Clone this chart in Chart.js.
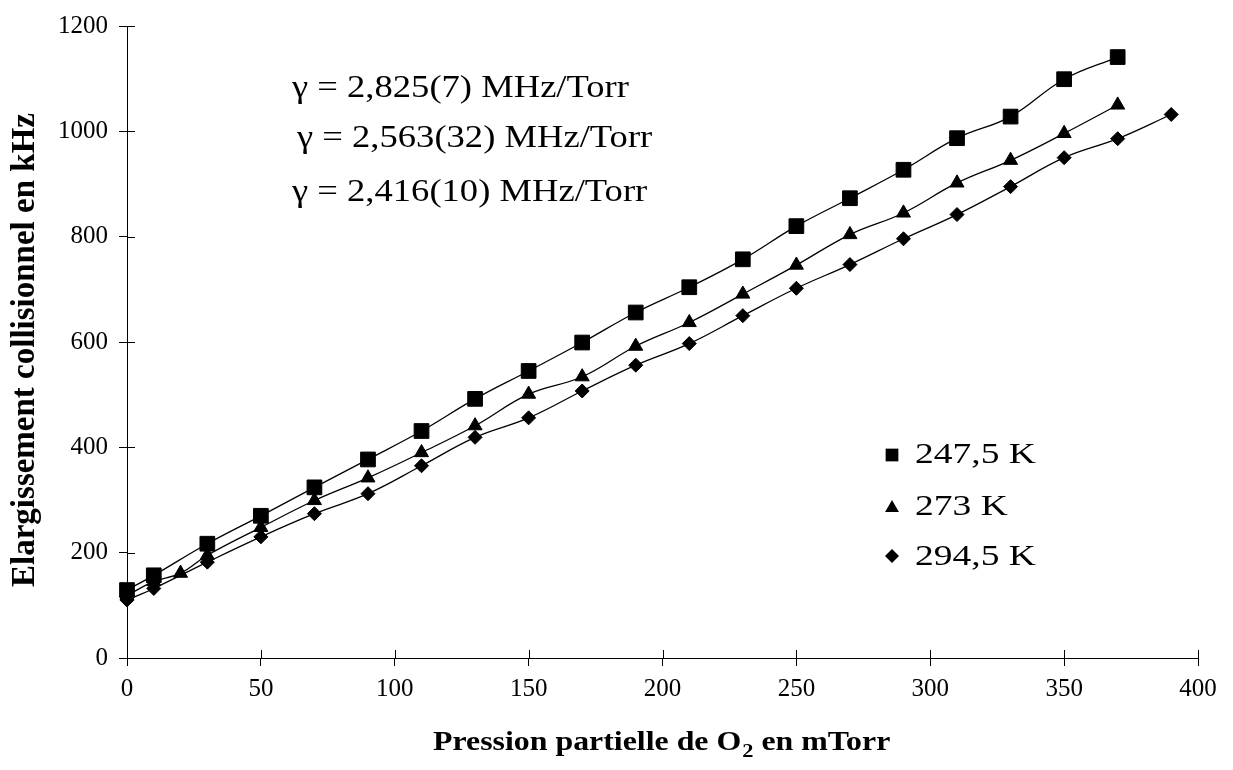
<!DOCTYPE html>
<html><head><meta charset="utf-8">
<script src="https://cdn.jsdelivr.net/npm/chart.js@4/dist/chart.umd.min.js"></script>
<style>html,body{margin:0;padding:0;background:#fff;}canvas{display:block;}</style>
</head><body>
<canvas id="c" width="1233" height="770"></canvas>
<script>
// ---- data ----
const xSquares   = [0,10,30,50,70,90,110,130,150,170,190,210,230,250,270,290,310,330,350,370];
const ySquares   = [129,157,217,270,324,377,431,492,545,599,656,704,757,820,873,927,987,1028,1099,1141];
const xTriangles = [0,10,20,30,50,70,90,110,130,150,170,190,210,230,250,270,290,310,330,350,370];
const yTriangles = [119,145,161,195,248,299,342,390,441,501,534,592,637,691,746,804,845,902,945,996,1050];
const xDiamonds  = [0,10,30,50,70,90,110,130,150,170,190,210,230,250,270,290,310,330,350,370,390];
const yDiamonds  = [110,132,182,230,274,312,365,419,456,507,556,597,650,702,747,796,842,895,950,986,1032];
const seriesNames = ['247,5 K','273 K','294,5 K'];
const annotationLines = ['γ = 2,825(7) MHz/Torr','γ = 2,563(32) MHz/Torr','γ = 2,416(10) MHz/Torr'];
const xTitleParts = ['Pression partielle de O','2',' en mTorr'];
const yTitle = 'Elargissement collisionnel en kHz';
const xMin = 0, xMax = 400, xStep = 50;
const yMin = 0, yMax = 1200, yStep = 200;

const SERIF = '"Liberation Serif","Times New Roman",serif';
function pts(xs, ys){ return xs.map((x,i)=>({x:x, y:ys[i]})); }

function sText(ctx, s, x, y, font, sx){
  ctx.save(); ctx.translate(x,y); ctx.scale(sx,1);
  ctx.font = font; ctx.textAlign='left'; ctx.textBaseline='alphabetic'; ctx.fillStyle='#000';
  ctx.fillText(s,0,0);
  const w = ctx.measureText(s).width*sx;
  ctx.restore();
  return w;
}

const overlay = {
  id:'overlay',
  afterDraw(chart){
    const ctx = chart.ctx, a = chart.chartArea, xs = chart.scales.x, ys = chart.scales.y;
    ctx.save();
    ctx.strokeStyle='#000'; ctx.lineWidth=1;
    ctx.beginPath();
    xs.ticks.forEach(t=>{ const p=Math.round(xs.getPixelForValue(t.value))+0.5; ctx.moveTo(p,a.bottom); ctx.lineTo(p,a.bottom-8); });
    ys.ticks.forEach(t=>{ const p=Math.round(ys.getPixelForValue(t.value))+0.5; ctx.moveTo(a.left,p); ctx.lineTo(a.left+8,p); });
    ctx.stroke();
    ctx.restore();

    // annotations
    const ax=[292,297,292], ay=[97,147,201];
    annotationLines.forEach((s,i)=>sText(ctx,s,ax[i],ay[i],'31px '+SERIF,1.18));

    // legend
    const styles=[{pointStyle:'rect',radius:9},{pointStyle:'triangle',radius:8},{pointStyle:'rectRot',radius:7}];
    const my=[455,508,556], ty=[463,515,565];
    ctx.save(); ctx.fillStyle='#000'; ctx.strokeStyle='#000';
    styles.forEach((st,i)=>{
      Chart.helpers.drawPoint(ctx,{pointStyle:st.pointStyle,radius:st.radius,rotation:0,borderWidth:0},892,my[i]);
      sText(ctx,seriesNames[i],915,ty[i],'30px '+SERIF,1.25);
    });
    ctx.restore();

    // x title with subscript
    let x0=433; const by=750;
    x0 += sText(ctx,xTitleParts[0],x0,by,'bold 27px '+SERIF,1.18);
    x0 += sText(ctx,xTitleParts[1],x0+1,by+7,'bold 19px '+SERIF,1.18)+1;
    sText(ctx,xTitleParts[2],x0,by,'bold 27px '+SERIF,1.18);

    // y title
    ctx.save();
    ctx.translate(34,350); ctx.rotate(-Math.PI/2);
    ctx.font='bold 33px '+SERIF; ctx.textAlign='center'; ctx.textBaseline='alphabetic'; ctx.fillStyle='#000';
    ctx.fillText(yTitle,0,0);
    ctx.restore();
  }
};

function ds(label, data, style, r){
  return {label:label, data:data, showLine:true, fill:false, borderColor:'#000', borderWidth:1.3, tension:0.4,
    pointStyle:style, pointRadius:r, pointHoverRadius:r, pointBackgroundColor:'#000', pointBorderColor:'#000', pointBorderWidth:1, clip:false};
}

new Chart(document.getElementById('c').getContext('2d'), {
  type:'line',
  data:{datasets:[
    ds(seriesNames[0], pts(xSquares,ySquares), 'rect', 10.4),
    ds(seriesNames[1], pts(xTriangles,yTriangles), 'triangle', 8.1),
    ds(seriesNames[2], pts(xDiamonds,yDiamonds), 'rectRot', 7)
  ]},
  options:{
    responsive:false, animation:false, devicePixelRatio:1,
    layout:{padding:{left:0,right:35,top:24,bottom:0}},
    plugins:{legend:{display:false}, tooltip:{enabled:false}},
    scales:{
      x:{type:'linear', min:xMin, max:xMax,
        ticks:{stepSize:xStep, color:'#000', font:{family:SERIF,size:25}, padding:8, maxRotation:0, callback:v=>String(v)},
        grid:{drawOnChartArea:false, color:'#000', tickLength:8, lineWidth:1},
        border:{color:'#000', width:1},
        afterFit:s=>{s.height=112;}},
      y:{type:'linear', min:yMin, max:yMax,
        ticks:{stepSize:yStep, color:'#000', font:{family:SERIF,size:25}, padding:11, callback:v=>String(v)},
        grid:{drawOnChartArea:false, color:'#000', tickLength:8, lineWidth:1},
        border:{color:'#000', width:1},
        afterFit:s=>{s.width=127;}}
    }
  },
  plugins:[overlay]
});
</script>
</body></html>
